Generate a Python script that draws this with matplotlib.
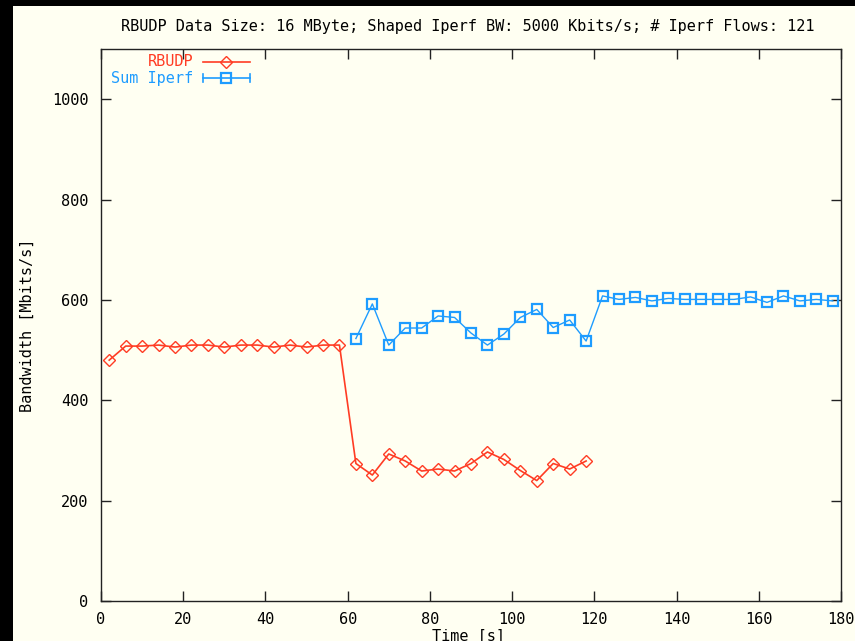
import numpy as np
import matplotlib
matplotlib.use("Agg")
import matplotlib.pyplot as plt
from matplotlib.patches import Rectangle
from matplotlib.lines import Line2D

# RBUDP flow, sampled every 4 s
rbudp_time = [2, 6, 10, 14, 18, 22, 26, 30, 34, 38, 42, 46, 50, 54, 58,
              62, 66, 70, 74, 78, 82, 86, 90, 94, 98, 102, 106, 110, 114, 118]
rbudp_bw = [480, 508, 508, 510, 506, 510, 510, 506, 510, 510, 506, 510, 506, 510, 510,
            274, 251, 293, 279, 259, 263, 259, 274, 297, 282, 260, 240, 274, 263, 279]

# sum of all iperf flows
iperf_time = [62, 66, 70, 74, 78, 82, 86, 90, 94, 98, 102, 106, 110, 114, 118,
              122, 126, 130, 134, 138, 142, 146, 150, 154, 158, 162, 166, 170, 174, 178]
iperf_bw = [523, 592, 510, 544, 544, 568, 565, 534, 510, 532, 565, 581, 545, 560, 518,
            608, 601, 605, 598, 603, 601, 601, 601, 601, 606, 595, 608, 598, 601, 598]

x_ticks = [0, 20, 40, 60, 80, 100, 120, 140, 160, 180]
y_ticks = [0, 200, 400, 600, 800, 1000]

title = "RBUDP Data Size: 16 MByte; Shaped Iperf BW: 5000 Kbits/s; # Iperf Flows: 121"

W, H = 855, 641
BG = "#fffff2"
RED = "#ff3c24"
BLUE = "#1e9cff"
FONT = "DejaVu Sans Mono"
FS = 11

fig = plt.figure(figsize=(W / 100, H / 100), dpi=100, facecolor="black")
# cream canvas, leaving the black strip on the left and top
fig.patches.append(Rectangle((13 / W, 0), 1 - 13 / W, 1 - 6 / H,
                             transform=fig.transFigure, facecolor=BG,
                             edgecolor="none", zorder=-5))

ax = fig.add_axes([101 / W, (H - 601) / H, 740 / W, 552 / H])
ax.set_facecolor(BG)

ax.plot(rbudp_time, rbudp_bw, color=RED, lw=1.2, marker="D", ms=6.5,
        mfc="none", mec=RED, mew=1.0, clip_on=False)
ax.plot(iperf_time, iperf_bw, color=BLUE, lw=1.0, marker="s", ms=7,
        mfc="none", mec=BLUE, mew=1.6, clip_on=False)

ax.set_xlim(0, 180)
ax.set_ylim(0, 1100)
ax.set_xticks(x_ticks)
ax.set_yticks(y_ticks)
ax.set_xticklabels([str(v) for v in x_ticks], fontfamily=FONT, fontsize=FS)
ax.set_yticklabels([str(v) for v in y_ticks], fontfamily=FONT, fontsize=FS)
ax.tick_params(direction="in", length=7, width=1, top=True, right=True,
               color="#222222", pad=8)
ax.tick_params(axis="y", pad=9)
for s in ax.spines.values():
    s.set_color("#222222")
    s.set_linewidth(1.0)

fig.text(468 / W, 1 - 27 / H, title, ha="center", va="center",
         fontfamily=FONT, fontsize=FS)
fig.text(468 / W, 1 - 636 / H, "Time [s]", ha="center", va="center",
         fontfamily=FONT, fontsize=FS)
fig.text(27 / W, 1 - 325 / H, "Bandwidth [Mbits/s]", ha="center", va="center",
         rotation=90, fontfamily=FONT, fontsize=FS)

# gnuplot style key, drawn in figure pixels
def px(x, y):
    return x / W, 1 - y / H

tx, ty = px(193, 62)
fig.text(tx, ty, "RBUDP", color=RED, ha="right", va="center",
         fontfamily=FONT, fontsize=FS)
x0, y0 = px(203, 62)
x1, _ = px(250, 62)
xm, _ = px(226, 62)
fig.add_artist(Line2D([x0, x1], [y0, y0], color=RED, lw=1.2))
fig.add_artist(Line2D([xm], [y0], color=RED, marker="D", ms=6.5, mfc="none",
                      mew=1.0))

tx, ty = px(193, 78)
fig.text(tx, ty, "Sum Iperf", color=BLUE, ha="right", va="center",
         fontfamily=FONT, fontsize=FS)
x0, y0 = px(203, 78)
x1, _ = px(250, 78)
xm, _ = px(226, 78)
cap = 4 / H
fig.add_artist(Line2D([x0, x1], [y0, y0], color=BLUE, lw=1.2))
fig.add_artist(Line2D([x0, x0], [y0 - cap, y0 + cap], color=BLUE, lw=1.2))
fig.add_artist(Line2D([x1, x1], [y0 - cap, y0 + cap], color=BLUE, lw=1.2))
fig.add_artist(Line2D([xm], [y0], color=BLUE, marker="s", ms=7, mfc="none",
                      mew=1.6))

fig.savefig("out.png", dpi=100, facecolor="black")
